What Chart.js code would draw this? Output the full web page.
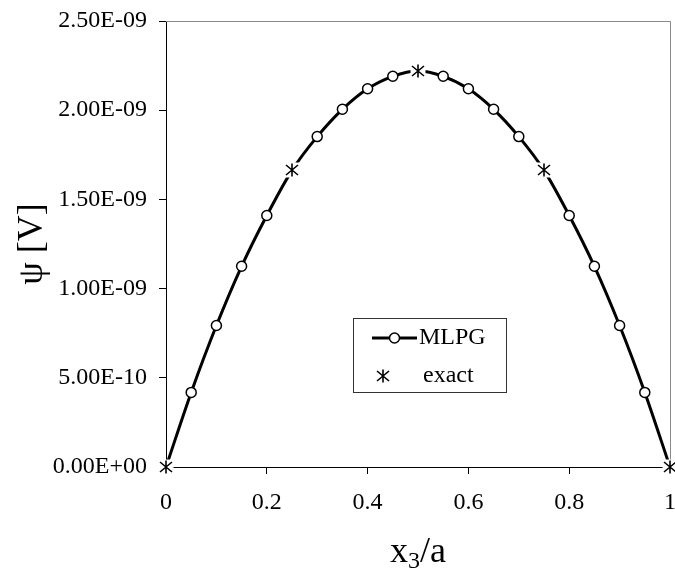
<!DOCTYPE html>
<html>
<head>
<meta charset="utf-8">
<script src="https://cdn.jsdelivr.net/npm/chart.js@4/dist/chart.umd.min.js"></script>
<style>
  html, body { margin: 0; padding: 0; background: #fff; }
  canvas { display: block; }
</style>
</head>
<body>
<canvas id="c" width="675" height="572"></canvas>
<script>
// ---- data ----
const xMLPG = [0, 0.05, 0.1, 0.15, 0.2, 0.25, 0.3, 0.35, 0.4, 0.45, 0.5, 0.55, 0.6, 0.65, 0.7, 0.75, 0.8, 0.85, 0.9, 0.95, 1];
const yMLPG = [0, 0.418e-9, 0.793e-9, 1.125e-9, 1.41e-9, 1.663e-9, 1.852e-9, 2.005e-9, 2.12e-9, 2.19e-9, 2.22e-9,
               2.19e-9, 2.12e-9, 2.005e-9, 1.852e-9, 1.663e-9, 1.41e-9, 1.125e-9, 0.793e-9, 0.418e-9, 0];
const xExact = [0, 0.25, 0.5, 0.75, 1];
const yExact = [0, 1.665e-9, 2.22e-9, 1.665e-9, 0];
const xTicks = [0, 0.2, 0.4, 0.6, 0.8, 1];
const yTicks = [0, 5e-10, 1e-9, 1.5e-9, 2e-9, 2.5e-9];
const seriesNames = ['MLPG', 'exact'];
const xTitleParts = ['x', '3', '/a'];
const yTitle = 'ψ [V]';

const FONT = '"Liberation Serif", "Times New Roman", serif';

function fmtSci(v) {
  if (v === 0) return '0.00E+00';
  const s = v.toExponential(2).split('e');
  let e = parseInt(s[1], 10);
  const sign = e < 0 ? '-' : '+';
  e = Math.abs(e);
  return s[0] + 'E' + sign + (e < 10 ? '0' + e : '' + e);
}

function makeStar(size) {
  const c = document.createElement('canvas');
  c.width = size; c.height = size;
  const g = c.getContext('2d');
  const m = size / 2, r = 6.5;
  g.fillStyle = '#fff';
  g.fillRect(m - r - 1, m - r - 1, 2 * r + 2, 2 * r + 2);
  g.strokeStyle = '#000';
  g.lineWidth = 1.6;
  g.beginPath();
  g.moveTo(m, m - r); g.lineTo(m, m + r);
  g.moveTo(m - r + 0.5, m - r + 1.5); g.lineTo(m + r - 0.5, m + r - 1.5);
  g.moveTo(m + r - 0.5, m - r + 1.5); g.lineTo(m - r + 0.5, m + r - 1.5);
  g.stroke();
  return c;
}
const star = makeStar(18);

const mlpgData = xMLPG.map((x, i) => ({ x: x, y: yMLPG[i] }));
const exactData = xExact.map((x, i) => ({ x: x, y: yExact[i] }));

const framePlugin = {
  id: 'frame',
  beforeDatasetsDraw(chart) {
    const { ctx, chartArea: a } = chart;
    ctx.save();
    ctx.strokeStyle = '#888';
    ctx.lineWidth = 1;
    ctx.beginPath();
    ctx.moveTo(a.left, a.top + 0.5); ctx.lineTo(a.right + 0.5, a.top + 0.5);
    ctx.lineTo(a.right + 0.5, a.bottom);
    ctx.stroke();
    ctx.restore();
  }
};

const decoPlugin = {
  id: 'deco',
  afterDraw(chart) {
    const ctx = chart.ctx;
    ctx.save();
    // legend box
    const bx = 353, by = 318, bw = 153, bh = 74;
    ctx.fillStyle = '#fff';
    ctx.fillRect(bx, by, bw, bh);
    ctx.strokeStyle = '#333';
    ctx.lineWidth = 1;
    ctx.strokeRect(bx + 0.5, by + 0.5, bw, bh);
    // MLPG entry
    const y1 = 338;
    ctx.strokeStyle = '#000';
    ctx.lineWidth = 3;
    ctx.beginPath(); ctx.moveTo(372, y1); ctx.lineTo(417, y1); ctx.stroke();
    ctx.fillStyle = '#fff';
    ctx.lineWidth = 1.5;
    ctx.beginPath(); ctx.arc(394.5, y1, 5, 0, Math.PI * 2); ctx.fill(); ctx.stroke();
    ctx.fillStyle = '#000';
    ctx.font = '24px ' + FONT;
    ctx.textBaseline = 'middle';
    ctx.textAlign = 'left';
    ctx.fillText(seriesNames[0], 419, y1);
    // exact entry
    const y2 = 376;
    ctx.drawImage(star, 383 - 9, y2 - 9);
    ctx.fillText(seriesNames[1], 423, y2);

    // x title
    ctx.textBaseline = 'alphabetic';
    ctx.font = '36px ' + FONT;
    const w1 = ctx.measureText(xTitleParts[0]).width;
    const w3 = ctx.measureText(xTitleParts[2]).width;
    ctx.font = '24px ' + FONT;
    const w2 = ctx.measureText(xTitleParts[1]).width;
    const a = chart.chartArea;
    let x0 = (a.left + a.right) / 2 - (w1 + w2 + w3) / 2;
    const base = 562;
    ctx.font = '36px ' + FONT;
    ctx.fillText(xTitleParts[0], x0, base);
    ctx.font = '24px ' + FONT;
    ctx.fillText(xTitleParts[1], x0 + w1, base + 6);
    ctx.font = '36px ' + FONT;
    ctx.fillText(xTitleParts[2], x0 + w1 + w2, base);

    // y title
    ctx.translate(33, (a.top + a.bottom) / 2);
    ctx.rotate(-Math.PI / 2);
    ctx.textAlign = 'center';
    ctx.textBaseline = 'middle';
    ctx.font = '36px ' + FONT;
    ctx.fillText(yTitle, 0, 0);
    ctx.restore();
  }
};

new Chart(document.getElementById('c'), {
  type: 'line',
  data: {
    datasets: [
      {
        label: seriesNames[1],
        data: exactData,
        showLine: false,
        pointStyle: star,
        pointRadius: 9,
        order: 0,
        clip: false
      },
      {
        label: seriesNames[0],
        data: mlpgData,
        borderColor: '#000',
        borderWidth: 3,
        cubicInterpolationMode: 'monotone',
        pointStyle: 'circle',
        pointRadius: 5,
        pointBorderWidth: 1.5,
        pointBackgroundColor: '#fff',
        pointBorderColor: '#000',
        order: 1,
        clip: false
      }
    ]
  },
  options: {
    responsive: false,
    devicePixelRatio: 1,
    animation: false,
    layout: { autoPadding: false, padding: { top: 21, right: 5, left: 0, bottom: 0 } },
    plugins: { legend: { display: false }, tooltip: { enabled: false } },
    scales: {
      x: {
        type: 'linear',
        min: 0, max: 1,
        afterBuildTicks(s) { s.ticks = xTicks.map(v => ({ value: v })); },
        afterFit(s) { s.height = 105; s.paddingLeft = 0; s.paddingRight = 0; },
        grid: { display: true, drawOnChartArea: false, drawTicks: true, tickLength: 7, color: '#000' },
        border: { display: true, color: '#000', width: 1 },
        ticks: {
          color: '#000',
          font: { family: FONT, size: 24 },
          padding: 14,
          maxRotation: 0,
          callback: v => String(v)
        }
      },
      y: {
        type: 'linear',
        min: 0, max: 2.5e-9,
        afterBuildTicks(s) { s.ticks = yTicks.map(v => ({ value: v })); },
        afterFit(s) { s.width = 166; s.paddingTop = 0; s.paddingBottom = 0; },
        grid: { display: true, drawOnChartArea: false, drawTicks: true, tickLength: 7, color: '#000' },
        border: { display: true, color: '#000', width: 1 },
        ticks: {
          color: '#000',
          font: { family: FONT, size: 24 },
          padding: 12,
          callback: v => fmtSci(v)
        }
      }
    }
  },
  plugins: [framePlugin, decoPlugin]
});
</script>
</body>
</html>
